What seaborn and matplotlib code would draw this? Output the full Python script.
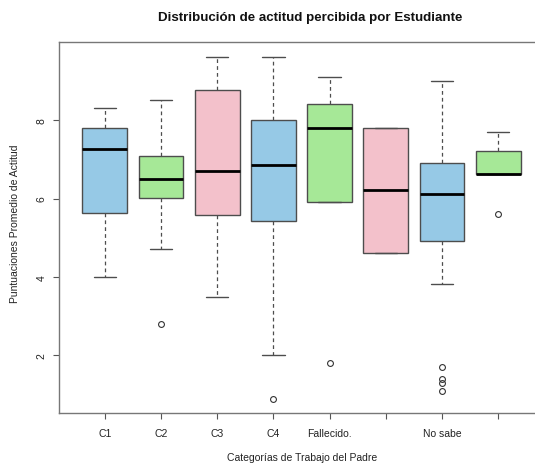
import numpy as np
import pandas as pd
import matplotlib
matplotlib.use("Agg")
import matplotlib.pyplot as plt
import seaborn as sns

# ---- data (five-number summaries + outliers) ----
categories = ["C1", "C2", "C3", "C4", "Fallecido.", "Otro", "No sabe", "Sin dato"]
tick_labels = ["C1", "C2", "C3", "C4", "Fallecido.", "", "No sabe", ""]
whisker_low = [4.0, 4.71, 3.5, 2.0, 5.91, 4.61, 3.81, 6.62]
q1 = [5.62, 6.02, 5.57, 5.42, 5.91, 4.61, 4.91, 6.62]
median = [7.26, 6.51, 6.71, 6.86, 7.81, 6.21, 6.11, 6.62]
q3 = [7.81, 7.10, 8.76, 8.01, 8.41, 7.81, 6.91, 7.21]
whisker_high = [8.31, 8.51, 9.61, 9.61, 9.11, 7.81, 9.01, 7.71]
outliers = [[], [2.8], [], [0.89], [1.8], [], [1.7, 1.39, 1.29, 1.09], [5.6]]
box_colors = ["#96C9E6", "#A6E897", "#F3C1CB", "#96C9E6", "#A6E897", "#F3C1CB", "#96C9E6", "#A6E897"]

# long-form table whose quartiles reproduce the summaries above
rows = []
for cat, lo, a, m, b, hi, outs in zip(categories, whisker_low, q1, median, q3, whisker_high, outliers):
    vals = [lo] + [a] * 10 + [m] * 10 + [b] * 10 + [hi] + list(outs)
    rows += [(cat, v) for v in vals]
df = pd.DataFrame(rows, columns=["categoria", "puntuacion"])

sns.set_style("white")
plt.rcParams["font.family"] = ["Liberation Sans", "DejaVu Sans"]

fig = plt.figure(figsize=(5.35, 4.64), dpi=100)
ax = fig.add_axes([58.7 / 535, 1 - 413.5 / 464, 485.6 / 535, 370.2 / 464])

edge = "#4d4d4d"
sns.boxplot(
    data=df, x="categoria", y="puntuacion", hue="categoria",
    order=categories, hue_order=categories, palette=box_colors,
    legend=False, width=0.8, ax=ax, saturation=1,
    linecolor=edge, linewidth=1.0,
    whiskerprops=dict(linestyle=(0, (3, 2.5)), color=edge, linewidth=0.9),
    capprops=dict(color=edge, linewidth=1.0),
    medianprops=dict(color="black", linewidth=2.0),
    flierprops=dict(marker="o", markersize=4.2, markerfacecolor="none",
                    markeredgecolor="#333333", markeredgewidth=0.8),
    boxprops=dict(edgecolor=edge),
)

ax.set_xlim(-0.82, 7.82)
ax.set_ylim(0.54, 9.99)
ax.set_yticks([2, 4, 6, 8])
ax.set_yticklabels(["2", "4", "6", "8"], rotation=90, va="center", fontsize=7.5)
ax.set_xticks(range(len(categories)))
ax.set_xticklabels(tick_labels, fontsize=7.5)
ax.tick_params(axis="both", which="both", direction="out", length=4, width=0.8,
               color="#555555", labelcolor="#222222", left=True, bottom=True)
ax.tick_params(axis="x", pad=7)
ax.tick_params(axis="y", pad=4.5)
for s in ax.spines.values():
    s.set_color("#777777")
    s.set_linewidth(1.0)

ax.set_xlabel("")
ax.set_ylabel("")
fig.text(302 / 535, 1 - 458 / 464, "Categorías de Trabajo del Padre",
         ha="center", va="center", fontsize=7.5, color="#222222")
fig.text(15 / 535, 1 - 224 / 464, "Puntuaciones Promedio de Actitud",
         ha="center", va="center", rotation=90, fontsize=7.5, color="#222222")
fig.text(310 / 535, 1 - 18 / 464, "Distribución de actitud percibida por Estudiante",
         ha="center", va="center", fontsize=9.6, fontweight="bold", color="#111111")

fig.savefig("out.png", dpi=100)
